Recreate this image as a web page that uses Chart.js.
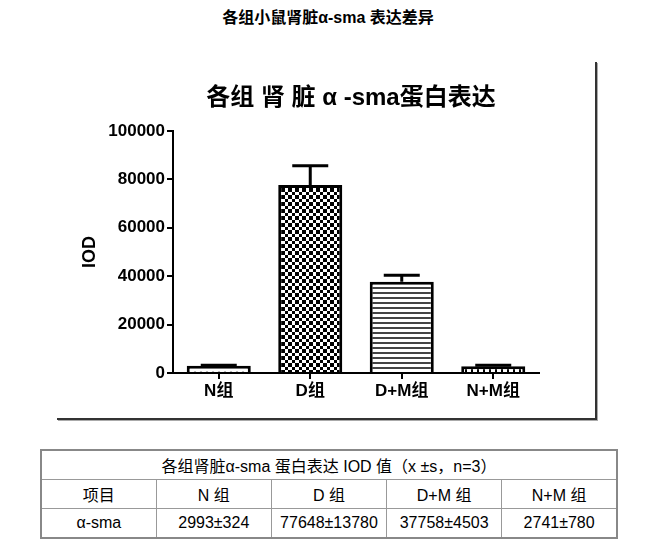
<!DOCTYPE html>
<html>
<head>
<meta charset="utf-8">
<script src="https://cdn.jsdelivr.net/npm/chart.js@4.4.1/dist/chart.umd.min.js"></script>
<style>
  body { margin:0; background:#fff; width:656px; height:549px; position:relative; overflow:hidden;
         font-family:'Liberation Sans','Noto Sans CJK SC',sans-serif; }
  #pageTitle { position:absolute; left:0; top:4px; width:656px; text-align:center;
               font-size:16px; font-weight:bold; color:#000; }
  #frame { position:absolute; left:57px; top:62px; width:538px; height:356px;
           border-right:2px solid #333; border-bottom:2px solid #333;
           box-shadow:1px 1px 0 #aaa; }
  #innerTitle { position:absolute; left:0; top:77px; width:702px; text-align:center;
                font-size:24px; font-weight:bold; color:#000; white-space:pre; }
  #cv { position:absolute; left:0; top:0; }
  table { position:absolute; left:40px; top:449px; width:578px; border-collapse:collapse;
          table-layout:fixed; border:2px solid #888; font-size:16px; color:#000; }
  td { border:1px solid #999; text-align:center; height:28px; padding:0; }
</style>
</head>
<body>
<div id="pageTitle">各组小鼠肾脏α-sma 表达差异</div>
<div id="frame"><canvas id="cv" width="538" height="356"></canvas></div>
<div id="innerTitle">各组 肾 脏 α -sma蛋白表达</div>
<table id="tbl"></table>
<script>
var groups = ['N组', 'D组', 'D+M组', 'N+M组'];
var iodMean = [2993, 77648, 37758, 2741];
var iodErr = [190, 7960, 2600, 450];
var yMin = 0, yMax = 100000, yStep = 20000;

var tableTitle = '各组肾脏α-sma 蛋白表达 IOD 值（x ±s，n=3）';
var tableHead = ['项目', 'N 组', 'D 组', 'D+M 组', 'N+M 组'];
var tableRow = ['α-sma', '2993±324', '77648±13780', '37758±4503', '2741±780'];

var fontFam = "'Liberation Sans','Noto Sans CJK SC',sans-serif";

// table
var tbl = document.getElementById('tbl');
var html = '<colgroup>';
tableHead.forEach(function(){ html += '<col style="width:20%">'; });
html += '</colgroup><tr><td colspan="5">' + tableTitle + '</td></tr><tr>';
tableHead.forEach(function(h){ html += '<td>' + h + '</td>'; });
html += '</tr><tr>';
tableRow.forEach(function(v){ html += '<td>' + v + '</td>'; });
html += '</tr>';
tbl.innerHTML = html;

// fill patterns
function makePattern(kind)
{
	var c = document.createElement('canvas');
	var g = c.getContext('2d');
	if (kind == 'check') {
		c.width = 14; c.height = 14;
		g.fillStyle = '#fff'; g.fillRect(0,0,14,14);
		g.fillStyle = '#000';
		var b = [0,4,7,11,14];
		for (var i=0;i<4;i++) for (var j=0;j<4;j++) {
			if ((i+j)%2==0) g.fillRect(b[i], b[j], b[i+1]-b[i], b[j+1]-b[j]);
		}
	} else if (kind == 'hline') {
		c.width = 5; c.height = 5;
		g.fillStyle = '#fff'; g.fillRect(0,0,5,5);
		g.fillStyle = '#444'; g.fillRect(0,0,5,2);
	} else if (kind == 'wave') {
		c.width = 6; c.height = 6;
		g.fillStyle = '#fff'; g.fillRect(0,0,6,6);
		g.strokeStyle = '#222'; g.lineWidth = 1.2;
		g.beginPath(); g.moveTo(0,4); g.lineTo(3,5.5); g.lineTo(6,4); g.stroke();
	} else {
		c.width = 6; c.height = 6;
		g.fillStyle = '#fff'; g.fillRect(0,0,6,6);
		g.fillStyle = '#000'; g.fillRect(0,0,2,6);
	}
	return g.createPattern(c, 'repeat');
}
var fills = [makePattern('wave'), makePattern('check'), makePattern('hline'), makePattern('vline')];

// up-only error bars with cap
var errorBars = {
	id: 'errorBars',
	afterDatasetsDraw: function(chart) {
		var ctx = chart.ctx;
		var meta = chart.getDatasetMeta(0);
		var ys = chart.scales.y;
		ctx.save();
		ctx.strokeStyle = '#000';
		ctx.lineWidth = 3;
		meta.data.forEach(function(bar, i) {
			var top = ys.getPixelForValue(iodMean[i] + iodErr[i]);
			ctx.beginPath();
			ctx.moveTo(bar.x, bar.y);
			ctx.lineTo(bar.x, top);
			ctx.moveTo(bar.x - 18, top);
			ctx.lineTo(bar.x + 18, top);
			ctx.stroke();
		});
		ctx.restore();
	}
};

var ctx = document.getElementById('cv');
var myChart = new Chart(ctx, {
	type: 'bar',
	data: {
		labels: groups,
		datasets: [{
			label: 'IOD',
			data: iodMean,
			backgroundColor: fills,
			borderColor: '#000',
			borderWidth: 3,
			borderSkipped: 'bottom',
			categoryPercentage: 1,
			barPercentage: 0.7
		}]
	},
	options: {
		responsive: false,
		animation: false,
		layout: { padding: { left: 18, right: 56, top: 69, bottom: 5 } },
		plugins: { legend: { display: false }, tooltip: { enabled: false } },
		scales: {
			y: {
				min: yMin, max: yMax,
				ticks: { stepSize: yStep, color: '#000', padding: 2,
				         callback: function(v) { return String(v); },
				         font: { family: fontFam, size: 17, weight: 'bold' } },
				grid: { drawOnChartArea: false, tickLength: 6, color: '#000', lineWidth: 2 },
				border: { color: '#000', width: 2 },
				title: { display: true, text: 'IOD', color: '#000',
				         font: { family: fontFam, size: 18, weight: 'bold' } },
				afterFit: function(s) { s.width = 98; }
			},
			x: {
				ticks: { color: '#000', padding: 2,
				         font: { family: fontFam, size: 17, weight: 'bold' } },
				grid: { drawOnChartArea: false, offset: false, tickLength: 6, color: '#000', lineWidth: 2 },
				border: { color: '#000', width: 2 },
				afterFit: function(s) { s.height = 40; }
			}
		}
	},
	plugins: [errorBars]
});
</script>
</body>
</html>
